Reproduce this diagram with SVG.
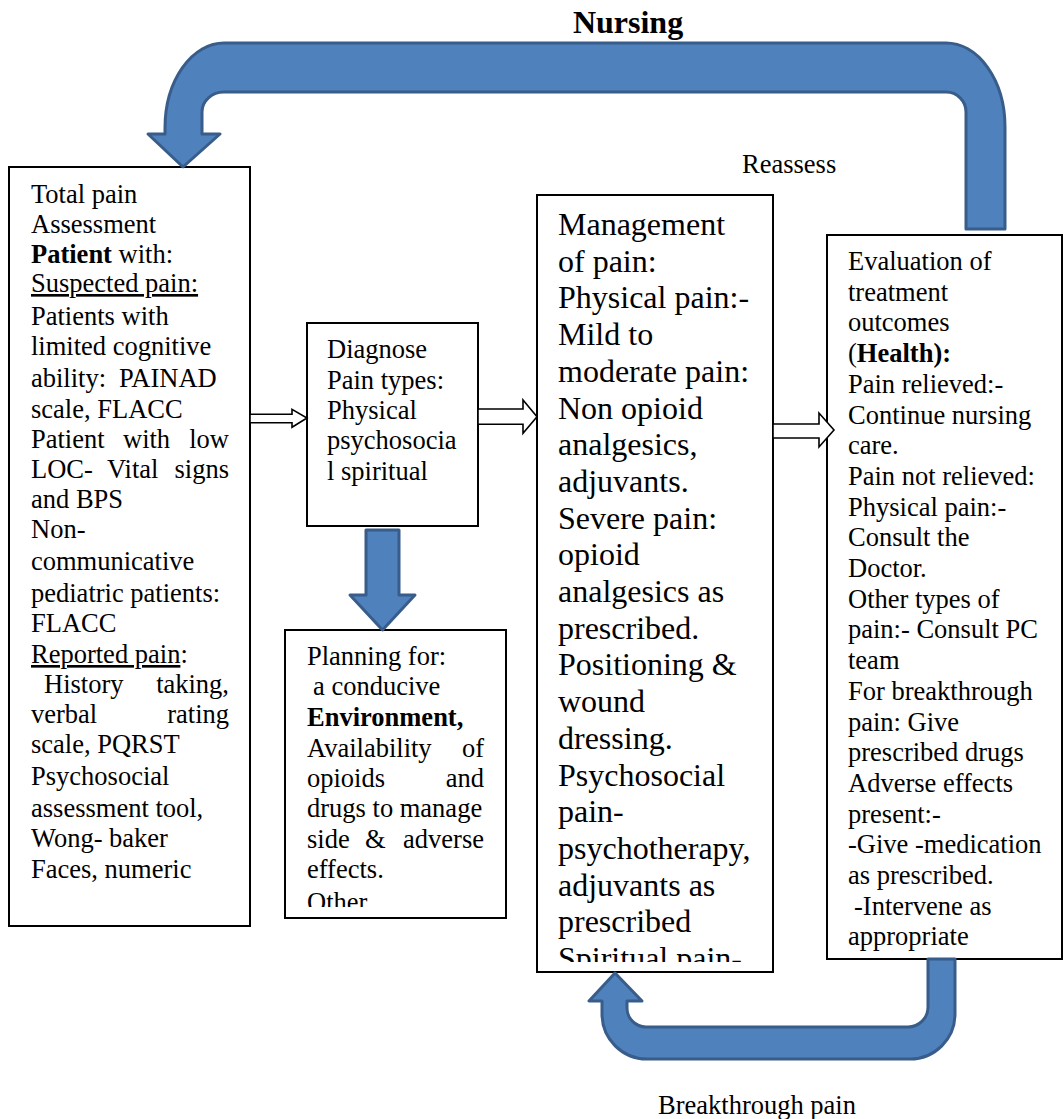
<svg xmlns="http://www.w3.org/2000/svg" width="1063" height="1119" viewBox="0 0 1063 1119">
<style>
  text { font-family: "Liberation Serif", "Times New Roman", serif; fill: #000; }
  .t { font-size: 26.5px; }
  .m { font-size: 32px; }
  .b { font-weight: bold; }
  .u { text-decoration: underline; }
  .box { fill: #fff; stroke: #000; stroke-width: 2; }
  .blue { fill: #4f81bd; stroke: #385d8a; stroke-width: 3; stroke-linejoin: round; }
  .hollow { fill: #fff; stroke: #000; stroke-width: 1.6; stroke-linejoin: miter; }
</style>
<defs>
  <clipPath id="clipPlan"><rect x="285" y="630" width="221" height="277"/></clipPath>
  <clipPath id="clipMgmt"><rect x="537" y="195" width="236" height="767"/></clipPath>
</defs>
<rect width="1063" height="1119" fill="#fff"/>

<text class="m b" x="628" y="33" text-anchor="middle">Nursing</text>
<text class="t" x="742" y="173">Reassess</text>
<text class="t" x="658" y="1114">Breakthrough pain</text>

<g id="assessment">
  <rect class="box" x="9" y="167" width="241" height="759"/>
  <text class="t" x="31" y="203">Total pain</text>
  <text class="t" x="31" y="233">Assessment</text>
  <text class="t" x="31" y="263"><tspan class="b">Patient</tspan> with:</text>
  <text class="t u" x="31" y="292">Suspected pain:</text>
  <text class="t" x="31" y="325">Patients with</text>
  <text class="t" x="31" y="355">limited cognitive</text>
  <text class="t" y="387"><tspan x="31">ability:</tspan><tspan x="119">PAINAD</tspan></text>
  <text class="t" x="31" y="418">scale, FLACC</text>
  <text class="t" y="448"><tspan x="31">Patient</tspan><tspan x="123">with</tspan></text>
  <text class="t" x="229" y="448" text-anchor="end">low</text>
  <text class="t" y="478"><tspan x="31">LOC-</tspan><tspan x="107">Vital</tspan></text>
  <text class="t" x="229" y="478" text-anchor="end">signs</text>
  <text class="t" x="31" y="508">and BPS</text>
  <text class="t" x="31" y="538">Non-</text>
  <text class="t" x="31" y="570">communicative</text>
  <text class="t" x="31" y="602">pediatric patients:</text>
  <text class="t" x="31" y="632">FLACC</text>
  <text class="t" x="31" y="663"><tspan class="u">Reported pain</tspan>:</text>
  <text class="t" x="44" y="693">History</text>
  <text class="t" x="229" y="693" text-anchor="end">taking,</text>
  <text class="t" x="31" y="723">verbal</text>
  <text class="t" x="229" y="723" text-anchor="end">rating</text>
  <text class="t" x="31" y="753">scale, PQRST</text>
  <text class="t" x="31" y="785">Psychosocial</text>
  <text class="t" x="31" y="817">assessment tool,</text>
  <text class="t" x="31" y="847">Wong- baker</text>
  <text class="t" x="31" y="878">Faces, numeric</text>
</g>

<g id="diagnose">
  <rect class="box" x="307" y="323" width="171" height="203"/>
  <text class="t" x="327" y="358">Diagnose</text>
  <text class="t" x="327" y="389">Pain types:</text>
  <text class="t" x="327" y="419">Physical</text>
  <text class="t" x="327" y="449">psychosocia</text>
  <text class="t" x="327" y="480">l spiritual</text>
</g>

<g id="planning">
  <rect class="box" x="285" y="630" width="221" height="288"/>
  <g clip-path="url(#clipPlan)">
    <text class="t" x="307" y="665">Planning for:</text>
    <text class="t" x="313" y="695">a conducive</text>
    <text class="t b" x="307" y="726">Environment,</text>
    <text class="t" x="307" y="757">Availability</text>
    <text class="t" x="484" y="757" text-anchor="end">of</text>
    <text class="t" x="307" y="787">opioids</text>
    <text class="t" x="484" y="787" text-anchor="end">and</text>
    <text class="t" x="307" y="817">drugs to manage</text>
    <text class="t" y="848"><tspan x="307">side</tspan><tspan x="365">&amp;</tspan></text>
    <text class="t" x="484" y="848" text-anchor="end">adverse</text>
    <text class="t" x="307" y="878">effects.</text>
    <text class="t" x="307" y="911">Other</text>
  </g>
</g>

<g id="management">
  <rect class="box" x="537" y="195" width="236" height="777"/>
  <g clip-path="url(#clipMgmt)">
    <text class="m" x="558" y="235">Management</text>
    <text class="m" x="558" y="271.7">of pain:</text>
    <text class="m" x="558" y="308.4">Physical pain:-</text>
    <text class="m" x="558" y="345.1">Mild to</text>
    <text class="m" x="558" y="381.8">moderate pain:</text>
    <text class="m" x="558" y="418.5">Non opioid</text>
    <text class="m" x="558" y="455.2">analgesics,</text>
    <text class="m" x="558" y="491.9">adjuvants.</text>
    <text class="m" x="558" y="528.6">Severe pain:</text>
    <text class="m" x="558" y="565.3">opioid</text>
    <text class="m" x="558" y="602">analgesics as</text>
    <text class="m" x="558" y="638.7">prescribed.</text>
    <text class="m" x="558" y="675.4">Positioning &amp;</text>
    <text class="m" x="558" y="712.1">wound</text>
    <text class="m" x="558" y="748.8">dressing.</text>
    <text class="m" x="558" y="785.5">Psychosocial</text>
    <text class="m" x="558" y="822.2">pain-</text>
    <text class="m" x="558" y="858.9">psychotherapy,</text>
    <text class="m" x="558" y="895.6">adjuvants as</text>
    <text class="m" x="558" y="932.3">prescribed</text>
    <text class="m" x="558" y="969">Spiritual pain-</text>
  </g>
</g>

<g id="evaluation">
  <rect class="box" x="827" y="235" width="235" height="724"/>
  <text class="t" x="848" y="270">Evaluation of</text>
  <text class="t" x="848" y="300.7">treatment</text>
  <text class="t" x="848" y="331.4">outcomes</text>
  <text class="t" x="848" y="362.1">(<tspan class="b">Health):</tspan></text>
  <text class="t" x="848" y="392.8">Pain relieved:-</text>
  <text class="t" x="848" y="423.5">Continue nursing</text>
  <text class="t" x="848" y="454.2">care.</text>
  <text class="t" x="848" y="484.9">Pain not relieved:</text>
  <text class="t" x="848" y="515.6">Physical pain:-</text>
  <text class="t" x="848" y="546.3">Consult the</text>
  <text class="t" x="848" y="577">Doctor.</text>
  <text class="t" x="848" y="607.7">Other types of</text>
  <text class="t" x="848" y="638.4">pain:- Consult PC</text>
  <text class="t" x="848" y="669.1">team</text>
  <text class="t" x="848" y="699.8">For breakthrough</text>
  <text class="t" x="848" y="730.5">pain: Give</text>
  <text class="t" x="848" y="761.2">prescribed drugs</text>
  <text class="t" x="848" y="791.9">Adverse effects</text>
  <text class="t" x="848" y="822.6">present:-</text>
  <text class="t" x="848" y="853.3">-Give -medication</text>
  <text class="t" x="848" y="884">as prescribed.</text>
  <text class="t" x="854" y="914.7">-Intervene as</text>
  <text class="t" x="848" y="945.4">appropriate</text>
</g>

<g id="connectors">
  <path id="nursing-loop" class="blue" d="M183,167 L220,134 L202,134 L202,112 A22,20 0 0 1 224,92 L946,92 A20,20 0 0 1 966,112 L966,229 L1005,229 L1005,127 A59,84 0 0 0 946,43 L224,43 A59,85 0 0 0 165,128 L165,134 L148,134 Z"/>
  <path id="breakthrough-loop" class="blue" d="M928,959 L928,1007 A20,20 0 0 1 908,1027 L646,1027 A19,19 0 0 1 627,1008 L627,1001 L642,1001 L615,973 L589,1001 L602,1001 L602,1014 A45,45 0 0 0 647,1059 L910,1059 A45,45 0 0 0 955,1014 L955,959 Z"/>
  <path id="diag-to-plan" class="blue" d="M366,530 L399,530 L399,595 L415,595 L382.5,630 L350,595 L366,595 Z"/>
  <path id="assess-to-diag" class="hollow" d="M250,414.3 L292,414.3 L292,409.3 L307,418 L292,427.3 L292,422.7 L250,422.7 Z"/>
  <path id="diag-to-mgmt" class="hollow" d="M478,409 L523,409 L523,400 L537,416.7 L523,433.3 L523,424.3 L478,424.3 Z"/>
  <path id="mgmt-to-eval" class="hollow" d="M773,424 L819,424 L819,413 L834,430 L819,447 L819,438 L773,438 Z"/>
</g>
</svg>
